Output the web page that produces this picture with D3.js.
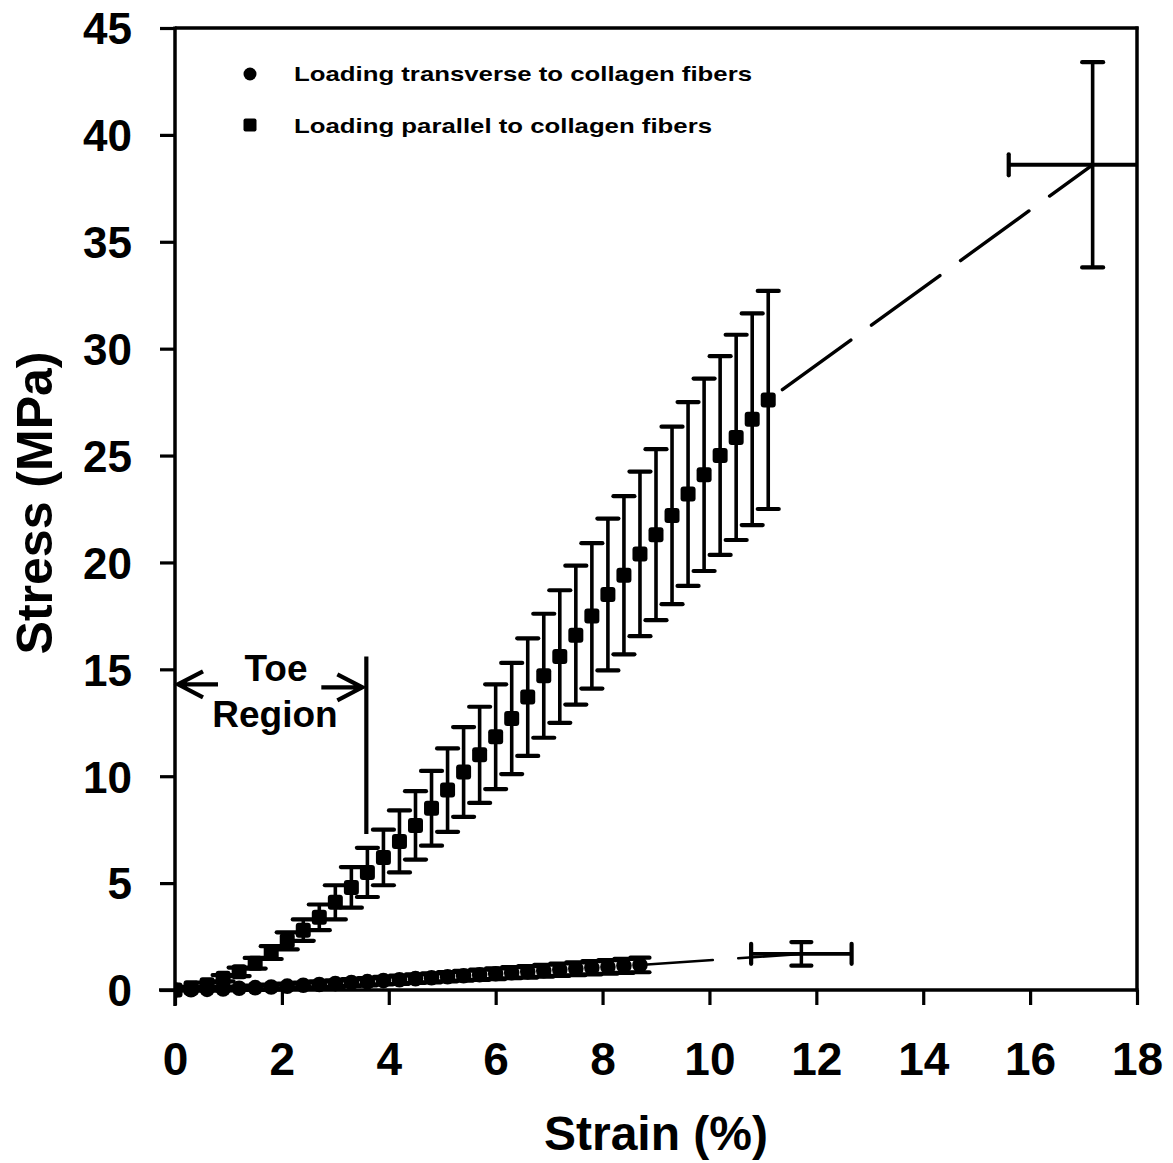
<!DOCTYPE html>
<html>
<head>
<meta charset="utf-8">
<script src="https://cdn.jsdelivr.net/npm/d3@7"></script>
<style>
  html, body { margin: 0; padding: 0; background: #fff; }
  svg { display: block; }
  text { font-family: "Liberation Sans", Arial, sans-serif; font-weight: bold; fill: #000; }
</style>
</head>
<body>
<svg id="chart" width="1173" height="1163"></svg>
<script>
// ---------- data ----------
const strainParallel = [0,0.3,0.6,0.9,1.2,1.5,1.8,2.1,2.4,2.7,3.0,3.3,3.6,3.9,4.2,4.5,4.8,5.1,5.4,5.7,6.0,6.3,6.6,6.9,7.2,7.5,7.8,8.1,8.4,8.7,9.0,9.3,9.6,9.9,10.2,10.5,10.8,11.1];
const stressParallel = [0,0.1,0.25,0.55,0.85,1.25,1.75,2.3,2.8,3.4,4.1,4.8,5.5,6.2,6.95,7.7,8.5,9.35,10.2,11.0,11.85,12.7,13.7,14.7,15.6,16.6,17.5,18.5,19.4,20.4,21.3,22.2,23.2,24.1,25.0,25.85,26.7,27.6];
const errParallel = [0,0.05,0.1,0.15,0.2,0.25,0.3,0.4,0.5,0.6,0.8,0.95,1.15,1.3,1.45,1.6,1.75,1.95,2.1,2.25,2.45,2.6,2.75,2.9,3.1,3.25,3.4,3.55,3.7,3.85,4.0,4.15,4.3,4.5,4.65,4.8,4.95,5.1];
// failure point of parallel loading (mean strain, mean stress, strain SD, stress SD)
const failParallel = {strain: 17.17, stress: 38.6, xErr: 1.57, yErr: 4.8};

const strainTransverse = [0,0.3,0.6,0.9,1.2,1.5,1.8,2.1,2.4,2.7,3.0,3.3,3.6,3.9,4.2,4.5,4.8,5.1,5.4,5.7,6.0,6.3,6.6,6.9,7.2,7.5,7.8,8.1,8.4,8.7];
const stressTransverse = [0,0.01,0.03,0.05,0.08,0.11,0.14,0.18,0.22,0.26,0.30,0.35,0.39,0.44,0.48,0.53,0.57,0.62,0.67,0.71,0.76,0.81,0.85,0.90,0.95,0.99,1.04,1.08,1.13,1.17];
const errTransverse = [0,0.03,0.05,0.07,0.08,0.1,0.11,0.12,0.13,0.14,0.15,0.16,0.17,0.18,0.19,0.2,0.21,0.22,0.23,0.24,0.25,0.26,0.27,0.28,0.29,0.3,0.31,0.32,0.33,0.34];
const failTransverse = {strain: 11.72, stress: 1.69, xErr: 0.94, yErr: 0.55};

const xTicks = [0,2,4,6,8,10,12,14,16,18];
const yTicks = [0,5,10,15,20,25,30,35,40,45];
const legendLabels = ["Loading transverse to collagen fibers", "Loading parallel to collagen fibers"];
const toeRegionStrain = 3.58;
const toeLineStress = [7.3, 15.6];
const toeArrowStress = 14.3;

// ---------- chart ----------
const svg = d3.select("#chart");
const x = d3.scaleLinear().domain([0, 18]).range([175, 1137]);
const y = d3.scaleLinear().domain([0, 45]).range([990, 28]);
const SW = 3.5;

const parallel = strainParallel.map((s, i) => ({s, v: stressParallel[i], e: errParallel[i]}));
const transverse = strainTransverse.map((s, i) => ({s, v: stressTransverse[i], e: errTransverse[i]}));

// clip for plot area
svg.append("defs").append("clipPath").attr("id", "plotclip")
  .append("rect").attr("x", x(0)).attr("y", y(45)).attr("width", x(18) - x(0)).attr("height", y(0) - y(45) + 10);

const plot = svg.append("g").attr("clip-path", "url(#plotclip)");

// dashed connectors
const lastP = parallel[parallel.length - 1];
plot.append("line")
  .attr("x1", x(lastP.s)).attr("y1", y(lastP.v))
  .attr("x2", x(failParallel.strain)).attr("y2", y(failParallel.stress))
  .attr("stroke", "#000").attr("stroke-width", 3.4)
  .attr("stroke-dasharray", "84.5,25.5").attr("stroke-dashoffset", 92.5)
  .attr("stroke-linecap", "round");
const lastT = transverse[transverse.length - 1];
plot.append("line")
  .attr("x1", x(lastT.s)).attr("y1", y(lastT.v))
  .attr("x2", x(failTransverse.strain)).attr("y2", y(failTransverse.stress))
  .attr("stroke", "#000").attr("stroke-width", 2.6)
  .attr("stroke-dasharray", "84.5,25.5").attr("stroke-dashoffset", 11.5)
  .attr("stroke-linecap", "round");

// error bar helper
function vErr(g, cx, v, e, capW, sw) {
  if (e <= 0) return;
  g.append("line").attr("x1", cx).attr("x2", cx).attr("y1", y(v + e)).attr("y2", y(v - e))
    .attr("stroke", "#000").attr("stroke-width", sw);
  [v + e, v - e].forEach(t => {
    g.append("line").attr("x1", cx - capW / 2).attr("x2", cx + capW / 2)
      .attr("y1", y(t)).attr("y2", y(t))
      .attr("stroke", "#000").attr("stroke-width", 4.2).attr("stroke-linecap", "round");
  });
}
function hErr(g, cy, s, e, capH, sw) {
  g.append("line").attr("x1", x(s - e)).attr("x2", x(s + e)).attr("y1", cy).attr("y2", cy)
    .attr("stroke", "#000").attr("stroke-width", sw);
  [s - e, s + e].forEach(t => {
    g.append("line").attr("x1", x(t)).attr("x2", x(t))
      .attr("y1", cy - capH / 2).attr("y2", cy + capH / 2)
      .attr("stroke", "#000").attr("stroke-width", 4.2).attr("stroke-linecap", "round");
  });
}

// transverse series
const gT = plot.append("g");
transverse.forEach(d => vErr(gT, x(d.s), d.v, d.e, 19, 3));
gT.selectAll("circle").data(transverse).join("circle")
  .attr("cx", d => x(d.s)).attr("cy", d => y(d.v)).attr("r", 7.8).attr("fill", "#000");
// transverse failure point
vErr(gT, x(failTransverse.strain), failTransverse.stress, failTransverse.yErr, 20, 3.5);
hErr(gT, y(failTransverse.stress), failTransverse.strain, failTransverse.xErr, 20, 3.8);

// parallel series
const gP = plot.append("g");
parallel.forEach(d => vErr(gP, x(d.s), d.v, d.e, 21, 3.6));
gP.selectAll("rect").data(parallel).join("rect")
  .attr("x", d => x(d.s) - 7.5).attr("y", d => y(d.v) - 7.5)
  .attr("width", 15).attr("height", 15).attr("rx", 3).attr("fill", "#000");
// parallel failure point
vErr(gP, x(failParallel.strain), failParallel.stress, failParallel.yErr, 21, 3.6);
hErr(gP, y(failParallel.stress), failParallel.strain, failParallel.xErr, 21, 4);

// ---------- axes ----------
const xAxis = d3.axisBottom(x).tickValues(xTicks).tickSize(15).tickPadding(37).tickSizeOuter(0);
const gx = svg.append("g").attr("transform", `translate(0,${y(0)})`).call(xAxis);
gx.select(".domain").attr("d", `M${x(0) - 16},0H${x(18) + 1.5}`).attr("stroke-width", SW);
gx.selectAll(".tick line").attr("stroke-width", 3.2);
gx.selectAll(".tick text").style("font-size", "46px").style("font-family", "'Liberation Sans', Arial, sans-serif")
  .style("font-weight", "bold").attr("dy", "0.71em");

const yAxis = d3.axisLeft(y).tickValues(yTicks).tickSize(15).tickPadding(28).tickSizeOuter(0);
const gy = svg.append("g").attr("transform", `translate(${x(0)},0)`).call(yAxis);
gy.select(".domain").attr("d", `M0,${y(0) + 16}V${y(45) - 1.5}`).attr("stroke-width", SW);
gy.selectAll(".tick line").attr("stroke-width", 3.2);
gy.selectAll(".tick text").style("font-size", "44px").style("font-family", "'Liberation Sans', Arial, sans-serif")
  .style("font-weight", "bold").attr("dy", "0.36em");

// top & right frame
svg.append("line").attr("x1", x(0)).attr("x2", x(18) + 1.5).attr("y1", y(45)).attr("y2", y(45))
  .attr("stroke", "#000").attr("stroke-width", SW);
svg.append("line").attr("x1", x(18)).attr("x2", x(18)).attr("y1", y(45) - 1.5).attr("y2", y(0) + 1.5)
  .attr("stroke", "#000").attr("stroke-width", SW);

// axis titles
svg.append("text").attr("x", 656).attr("y", 1150).attr("text-anchor", "middle")
  .style("font-size", "48px").text("Strain (%)");
svg.append("text").attr("transform", "translate(52,503) rotate(-90)").attr("text-anchor", "middle")
  .style("font-size", "50px").text("Stress (MPa)");

// legend
const leg = svg.append("g");
leg.append("circle").attr("cx", 250).attr("cy", 74).attr("r", 6.5).attr("fill", "#000");
leg.append("rect").attr("x", 243.5).attr("y", 118.5).attr("width", 13).attr("height", 13).attr("rx", 2).attr("fill", "#000");
leg.append("text").attr("x", 294).attr("y", 81).style("font-size", "21px")
  .attr("textLength", 458).attr("lengthAdjust", "spacingAndGlyphs").text(legendLabels[0]);
leg.append("text").attr("x", 294).attr("y", 133).style("font-size", "21px")
  .attr("textLength", 418).attr("lengthAdjust", "spacingAndGlyphs").text(legendLabels[1]);

// toe region annotation
const ann = svg.append("g").attr("stroke", "#000").attr("fill", "none").attr("stroke-width", 4.2);
ann.append("line").attr("x1", x(toeRegionStrain)).attr("x2", x(toeRegionStrain))
  .attr("y1", y(toeLineStress[1])).attr("y2", y(toeLineStress[0]));
const ay = y(toeArrowStress);
ann.append("path").attr("d", `M${x(0) + 3},${ay}H${x(0) + 43}M${x(0) + 28},${ay - 13}L${x(0) + 3},${ay}L${x(0) + 28},${ay + 13}`);
const ar = x(toeRegionStrain) - 4;
ann.append("path").attr("d", `M${ar - 41},${ay + 3}H${ar}M${ar - 25},${ay - 10}L${ar},${ay + 3}L${ar - 25},${ay + 16}`);
svg.append("text").attr("x", 276).attr("y", 681).attr("text-anchor", "middle").style("font-size", "37px").text("Toe");
svg.append("text").attr("x", 275).attr("y", 727).attr("text-anchor", "middle").style("font-size", "37px").text("Region");
</script>
</body>
</html>
